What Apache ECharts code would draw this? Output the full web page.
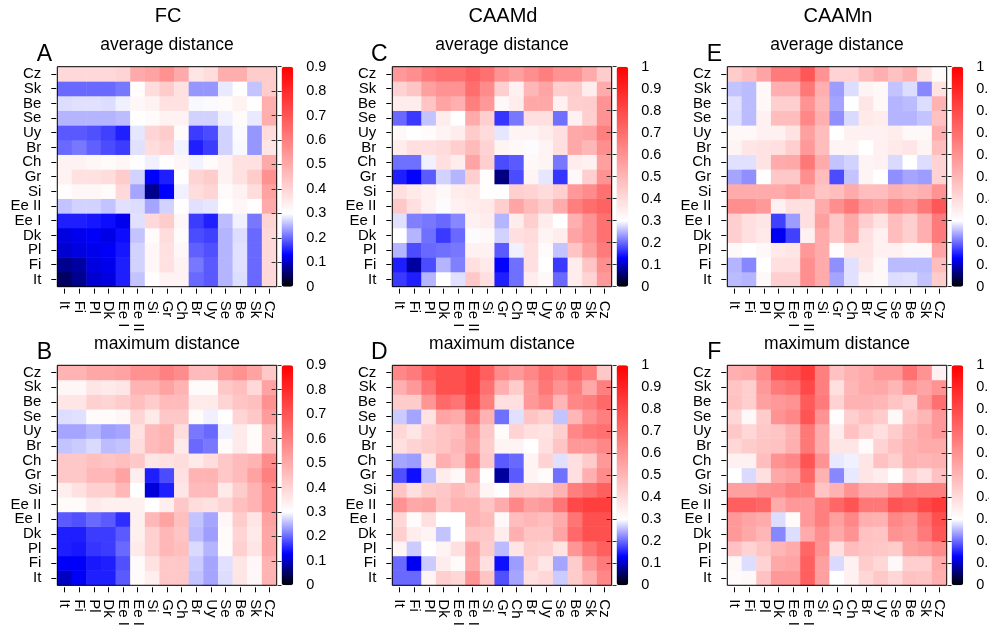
<!DOCTYPE html>
<html><head><meta charset="utf-8">
<script src="https://cdn.jsdelivr.net/npm/echarts@6/dist/echarts.min.js"></script>
<style>html,body{margin:0;padding:0;background:#fff}#c{width:989px;height:625px}</style>
</head><body><div id="c"></div>
<script>
// Category order (index 0 = bottom row / left column)
const categories = ['It','Fi','Pl','Dk','Ee I','Ee II','Si','Gr','Ch','Br','Uy','Se','Be','Sk','Cz'];

// Symmetric matrices stored as lower triangles: row i lists columns 0..i
const fcAverage = [
 [0.049],
 [0.073,0.082],
 [0.106,0.114,0.122],
 [0.114,0.122,0.127,0.118],
 [0.15,0.15,0.145,0.138,0.122],
 [0.26,0.27,0.27,0.26,0.28,0.277],
 [0.305,0.32,0.32,0.31,0.39,0.24,0.073],
 [0.33,0.37,0.37,0.38,0.42,0.27,0.13,0.15],
 [0.33,0.33,0.32,0.31,0.32,0.305,0.29,0.305,0.32],
 [0.20,0.21,0.194,0.18,0.17,0.28,0.38,0.40,0.292,0.15],
 [0.189,0.189,0.183,0.173,0.151,0.283,0.40,0.42,0.31,0.17,0.18],
 [0.25,0.25,0.25,0.25,0.255,0.30,0.31,0.33,0.33,0.27,0.27,0.29],
 [0.277,0.28,0.28,0.277,0.29,0.32,0.33,0.37,0.37,0.295,0.297,0.31,0.33],
 [0.20,0.20,0.20,0.20,0.21,0.305,0.38,0.42,0.37,0.23,0.23,0.285,0.30,0.26],
 [0.39,0.39,0.39,0.39,0.40,0.50,0.52,0.56,0.50,0.36,0.38,0.49,0.49,0.42,0.42]
];
const fcMaximum = [
 [0.098],
 [0.127,0.127],
 [0.15,0.146,0.165],
 [0.15,0.15,0.17,0.17],
 [0.19,0.183,0.20,0.19,0.16],
 [0.31,0.31,0.35,0.335,0.335,0.335],
 [0.34,0.37,0.41,0.41,0.47,0.30,0.11],
 [0.43,0.43,0.47,0.47,0.52,0.34,0.15,0.18],
 [0.43,0.43,0.45,0.44,0.45,0.43,0.36,0.37,0.38],
 [0.26,0.265,0.275,0.255,0.26,0.38,0.46,0.48,0.35,0.20],
 [0.24,0.24,0.25,0.235,0.24,0.37,0.46,0.48,0.38,0.21,0.20],
 [0.277,0.28,0.31,0.31,0.32,0.40,0.35,0.43,0.43,0.31,0.29,0.30],
 [0.36,0.36,0.41,0.40,0.42,0.45,0.42,0.46,0.46,0.35,0.35,0.40,0.44],
 [0.32,0.32,0.36,0.35,0.36,0.48,0.48,0.52,0.48,0.31,0.31,0.43,0.45,0.39],
 [0.48,0.48,0.51,0.51,0.52,0.56,0.56,0.60,0.57,0.46,0.46,0.53,0.56,0.52,0.43]
];
const caamdAverage = [
 [0.168],
 [0.15,0.082],
 [0.25,0.18,0.20],
 [0.30,0.25,0.205,0.168],
 [0.28,0.215,0.21,0.20,0.22],
 [0.45,0.39,0.34,0.298,0.34,0.35],
 [0.39,0.36,0.34,0.32,0.35,0.36,0.305],
 [0.15,0.13,0.19,0.27,0.25,0.43,0.305,0.065],
 [0.205,0.205,0.29,0.39,0.35,0.55,0.43,0.18,0.19],
 [0.35,0.39,0.39,0.40,0.43,0.49,0.42,0.33,0.32,0.298],
 [0.32,0.30,0.31,0.33,0.35,0.44,0.40,0.283,0.33,0.33,0.35],
 [0.20,0.168,0.26,0.35,0.30,0.53,0.43,0.165,0.21,0.39,0.39,0.205],
 [0.35,0.35,0.46,0.55,0.52,0.65,0.58,0.32,0.35,0.54,0.54,0.34,0.43],
 [0.42,0.46,0.56,0.60,0.60,0.70,0.62,0.43,0.34,0.50,0.55,0.43,0.44,0.35],
 [0.58,0.61,0.66,0.69,0.69,0.73,0.69,0.60,0.56,0.61,0.65,0.60,0.60,0.53,0.44]
];
const caamdMaximum = [
 [0.20],
 [0.20,0.122],
 [0.33,0.265,0.30],
 [0.43,0.35,0.33,0.26],
 [0.41,0.31,0.39,0.30,0.30],
 [0.60,0.54,0.55,0.46,0.51,0.51],
 [0.46,0.39,0.44,0.45,0.49,0.46,0.33],
 [0.183,0.14,0.255,0.35,0.32,0.53,0.305,0.08],
 [0.24,0.235,0.37,0.52,0.48,0.63,0.45,0.19,0.20],
 [0.39,0.42,0.44,0.46,0.50,0.56,0.44,0.33,0.33,0.30],
 [0.41,0.37,0.43,0.46,0.48,0.58,0.45,0.31,0.42,0.39,0.38],
 [0.265,0.24,0.38,0.55,0.53,0.68,0.51,0.205,0.28,0.46,0.43,0.26],
 [0.44,0.44,0.59,0.71,0.68,0.80,0.65,0.39,0.39,0.58,0.63,0.50,0.63],
 [0.52,0.58,0.68,0.78,0.78,0.83,0.69,0.52,0.44,0.58,0.67,0.60,0.65,0.54],
 [0.63,0.66,0.74,0.78,0.78,0.83,0.74,0.62,0.58,0.63,0.69,0.65,0.71,0.65,0.45]
];
const caamnAverage = [
 [0.255],
 [0.25,0.22],
 [0.32,0.30,0.32],
 [0.43,0.39,0.36,0.122],
 [0.43,0.39,0.37,0.173,0.235],
 [0.61,0.61,0.58,0.34,0.39,0.39],
 [0.53,0.53,0.53,0.53,0.56,0.53,0.46],
 [0.24,0.225,0.305,0.45,0.45,0.61,0.48,0.18],
 [0.28,0.28,0.38,0.53,0.54,0.67,0.53,0.26,0.27],
 [0.33,0.37,0.38,0.39,0.43,0.58,0.48,0.33,0.33,0.30],
 [0.32,0.32,0.34,0.34,0.38,0.56,0.48,0.30,0.34,0.34,0.34],
 [0.277,0.255,0.34,0.48,0.48,0.63,0.52,0.225,0.275,0.36,0.35,0.25],
 [0.28,0.255,0.32,0.43,0.43,0.60,0.50,0.24,0.30,0.37,0.32,0.25,0.255],
 [0.26,0.255,0.32,0.52,0.52,0.67,0.52,0.235,0.277,0.33,0.32,0.26,0.277,0.22],
 [0.44,0.48,0.55,0.66,0.66,0.76,0.60,0.42,0.42,0.48,0.52,0.47,0.51,0.38,0.31]
];
const caamnMaximum = [
 [0.31],
 [0.32,0.277],
 [0.47,0.42,0.46],
 [0.58,0.54,0.50,0.22],
 [0.58,0.55,0.53,0.277,0.31],
 [0.74,0.74,0.72,0.53,0.58,0.58],
 [0.56,0.56,0.60,0.61,0.65,0.65,0.46],
 [0.30,0.275,0.39,0.54,0.56,0.72,0.51,0.22],
 [0.34,0.34,0.48,0.60,0.63,0.77,0.60,0.285,0.29],
 [0.41,0.44,0.46,0.47,0.52,0.67,0.53,0.37,0.37,0.31],
 [0.45,0.41,0.45,0.46,0.51,0.67,0.53,0.35,0.47,0.42,0.39],
 [0.41,0.32,0.44,0.60,0.63,0.77,0.60,0.305,0.43,0.47,0.44,0.32],
 [0.47,0.43,0.56,0.58,0.60,0.75,0.66,0.42,0.51,0.51,0.50,0.46,0.43],
 [0.46,0.43,0.58,0.66,0.69,0.80,0.65,0.39,0.50,0.53,0.54,0.50,0.58,0.55],
 [0.52,0.53,0.62,0.76,0.78,0.84,0.65,0.47,0.51,0.53,0.58,0.58,0.69,0.60,0.34]
];

// Colour-scale maxima (tick labels run 0..max by 0.1)
const scaleMaxFC = 0.9;
const scaleMaxCAAM = 1;

const methodTitles = ['FC','CAAMd','CAAMn'];
const rowTitles = ['average distance','maximum distance'];
const panelLetters = [['A','B'],['C','D'],['E','F']];
const matrices = [[fcAverage, fcMaximum],[caamdAverage, caamdMaximum],[caamnAverage, caamnMaximum]];
const scaleMax = [scaleMaxFC, scaleMaxCAAM, scaleMaxCAAM];

// ---- layout / style ----
const FONT = '"Liberation Sans", Arial, Helvetica, sans-serif';
const COL_X = [57.3, 392.3, 727.3];
const ROW_Y = [66.7, 365.3];
const HM_W = 219.4, HM_H = 220;
const CB_GAP = 4.9, CB_W = 11.6;

function ramp(max, blueAt, whiteAt) {
  const out = []; const n = 181;
  for (let k = 0; k < n; k++) {
    const v = max * k / (n - 1); let r, g, b;
    if (v <= blueAt) { r = 0; g = 0; b = 255 * v / blueAt; }
    else if (v <= whiteAt) { const t = (v - blueAt) / (whiteAt - blueAt); r = g = 255 * t; b = 255; }
    else { const s = (v - whiteAt) / (max - whiteAt); r = 255; g = b = 255 * (1 - s); }
    out.push('rgb(' + Math.round(r) + ',' + Math.round(g) + ',' + Math.round(b) + ')');
  }
  return out;
}

function expand(tri) {
  const d = [];
  for (let i = 0; i < tri.length; i++) {
    for (let j = 0; j <= i; j++) {
      d.push([j, i, tri[i][j]]);
      if (i !== j) d.push([i, j, tri[i][j]]);
    }
  }
  return d;
}

const grid = [], xAxis = [], yAxis = [], series = [], visualMap = [], graphic = [];
let gi = 0;
for (let c = 0; c < 3; c++) {
  for (let r = 0; r < 2; r++) {
    const left = COL_X[c], top = ROW_Y[r];
    const max = scaleMax[c];
    // heatmap grid
    grid.push({left: left, top: top, width: HM_W, height: HM_H, show: true,
      borderColor: '#000', borderWidth: 1, backgroundColor: 'transparent', z: 5,
      containLabel: false, outerBoundsMode: 'none'});
    xAxis.push({gridIndex: gi, type: 'category', data: categories, offset: 2,
      axisLine: {show: false},
      axisTick: {show: true, alignWithLabel: true, length: 5, lineStyle: {color: '#000'}},
      axisLabel: {rotate: -90, interval: 0, margin: 12, fontSize: 15, color: '#000', fontFamily: FONT},
      splitLine: {show: false}});
    yAxis.push({gridIndex: gi, type: 'category', data: categories, offset: 1,
      axisLine: {show: false},
      axisTick: {show: true, alignWithLabel: true, length: 5, lineStyle: {color: '#000'}},
      axisLabel: {interval: 0, margin: 15, fontSize: 15, color: '#000', fontFamily: FONT},
      splitLine: {show: false}});
    const hmIndex = series.length;
    series.push({type: 'heatmap', xAxisIndex: gi, yAxisIndex: gi, data: expand(matrices[c][r]),
      itemStyle: {borderWidth: 0}, emphasis: {disabled: true}, progressive: 0, z: 2});
    gi++;
    // colour bar
    const cbLeft = left + HM_W + CB_GAP;
    visualMap.push({type: 'continuous', seriesIndex: hmIndex, min: 0, max: max,
      inRange: {color: ramp(max, 0.13, 0.3)}, calculable: false, show: true, orient: 'vertical',
      left: cbLeft, top: top, itemWidth: CB_W, itemHeight: HM_H, padding: 0, text: null,
      hoverLink: false, z: 4});
    grid.push({left: cbLeft, top: top, width: CB_W, height: HM_H, show: false,
      containLabel: false, outerBoundsMode: 'none'});
    xAxis.push({gridIndex: gi, type: 'value', min: 0, max: 1, show: false});
    yAxis.push({gridIndex: gi, type: 'value', min: 0, max: max, interval: 0.1, position: 'right', z: 10,
      axisLine: {show: false},
      axisTick: {show: true, inside: true, length: CB_W, lineStyle: {color: '#333', width: 1, type: [4, 2]}},
      axisLabel: {margin: 13, fontSize: 14.5, color: '#000', fontFamily: FONT},
      splitLine: {show: false}});
    series.push({type: 'scatter', xAxisIndex: gi, yAxisIndex: gi, data: [], silent: true});
    gi++;
    // texts
    const cx = left + HM_W / 2;
    graphic.push({type: 'text', x: cx, y: top - 21.5, style: {text: rowTitles[r], font: '17.5px ' + FONT,
      fill: '#000', textAlign: 'center', textVerticalAlign: 'middle'}});
    graphic.push({type: 'text', x: left - 13, y: top - 12.5, style: {text: panelLetters[c][r], font: '23px ' + FONT,
      fill: '#000', textAlign: 'center', textVerticalAlign: 'middle'}});
    if (r === 0) {
      graphic.push({type: 'text', x: cx + 1, y: 16, style: {text: methodTitles[c], font: '20px ' + FONT,
        fill: '#000', textAlign: 'center', textVerticalAlign: 'middle'}});
    }
  }
}

const chart = echarts.init(document.getElementById('c'), null, {renderer: 'canvas'});
chart.setOption({animation: false, backgroundColor: '#fff', grid, xAxis, yAxis, series, visualMap, graphic});
</script>
</body></html>
